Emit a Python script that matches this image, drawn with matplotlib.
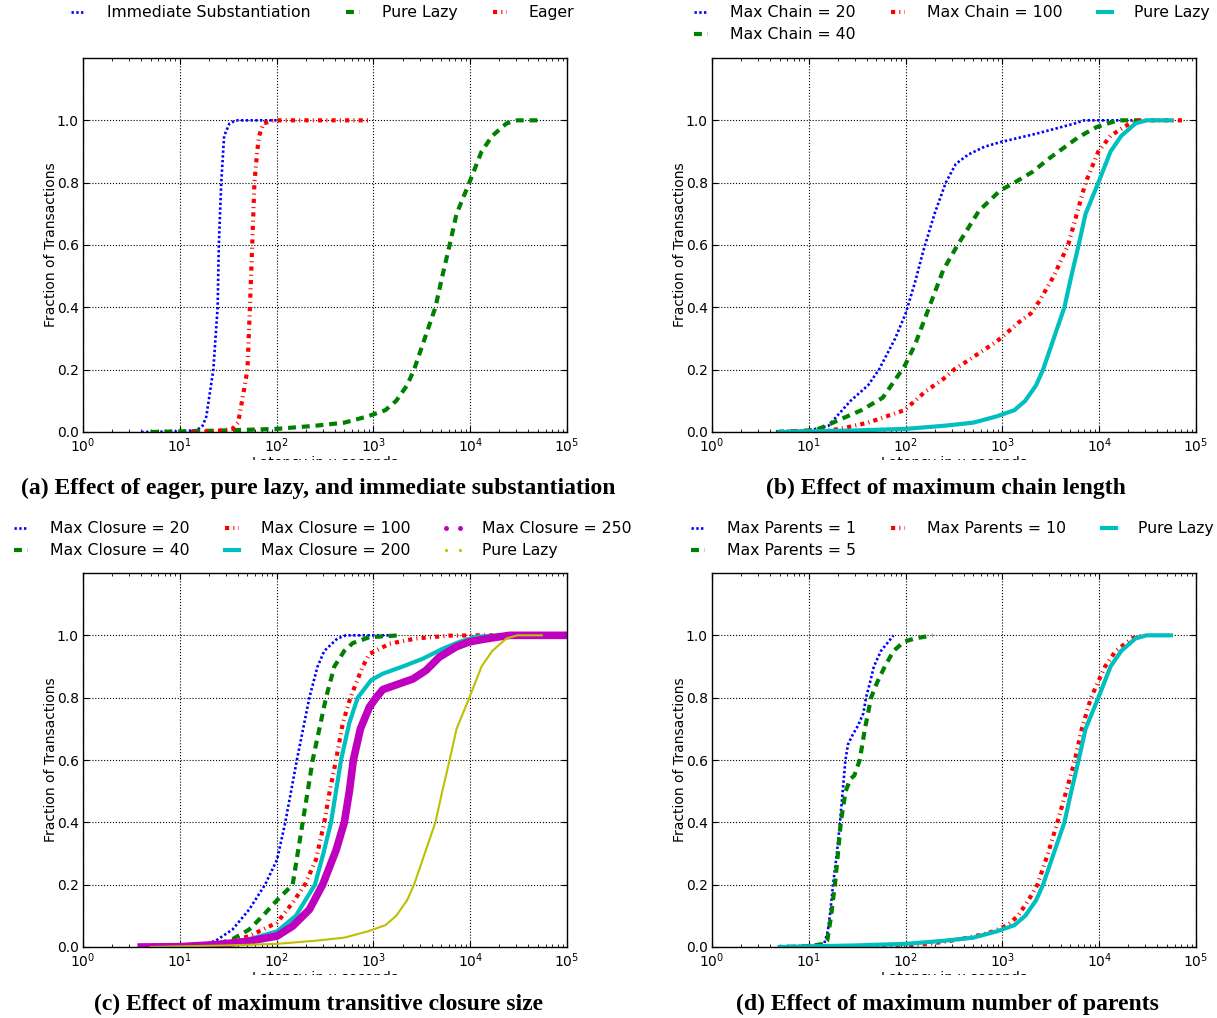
import matplotlib
matplotlib.use("Agg")
import matplotlib.pyplot as plt
from matplotlib.lines import Line2D
from matplotlib.ticker import FormatStrFormatter
from matplotlib.transforms import Bbox, TransformedBbox

W, H, DPI = 1217, 1018, 100

# ---- data (latency in seconds, cumulative fraction) ----
# shared "Pure Lazy" curve
PURE_LAZY_X = [5, 10, 30, 100, 250, 500, 870, 1330, 1720, 2230, 2630, 3390, 4370,
               5150, 6130, 7230, 9800, 13100, 16900, 23700, 30700, 55000]
PURE_LAZY_Y = [0, 0.002, 0.005, 0.01, 0.02, 0.03, 0.05, 0.07, 0.1, 0.15, 0.2, 0.3, 0.4,
               0.5, 0.6, 0.7, 0.8, 0.9, 0.95, 0.99, 1.0, 1.0]

# (a)
IMMEDIATE_X = [4, 10, 15, 17.2, 18.8, 22.2, 24.6, 25.3, 26.8, 28.7, 32.6, 38, 60, 100]
IMMEDIATE_Y = [0, 0.002, 0.006, 0.02, 0.05, 0.2, 0.4, 0.6, 0.8, 0.95, 0.99, 1.0, 1.0, 1.0]
EAGER_X = [13, 20, 27, 35, 40, 44, 50, 53, 56, 59, 63, 66, 73, 90, 107, 300, 900]
EAGER_Y = [0, 0.002, 0.005, 0.01, 0.03, 0.1, 0.2, 0.4, 0.6, 0.8, 0.9, 0.95, 0.99, 0.998,
           1.0, 1.0, 1.0]

# (b)
CHAIN20_X = [4.6, 10, 16, 19.4, 27, 41, 53, 78, 100, 125, 152, 199, 260, 330, 443, 650,
             950, 2230, 3700, 5600, 7000, 22000]
CHAIN20_Y = [0, 0.005, 0.02, 0.05, 0.1, 0.15, 0.2, 0.3, 0.38, 0.48, 0.58, 0.7, 0.8, 0.86,
             0.89, 0.915, 0.93, 0.957, 0.975, 0.99, 1.0, 1.0]
CHAIN40_X = [4.6, 10, 12.7, 15, 21, 35, 58, 97, 125, 175, 245, 345, 574, 950, 1330, 2030,
             3110, 6100, 9350, 15500, 25700]
CHAIN40_Y = [0, 0.005, 0.01, 0.02, 0.04, 0.07, 0.11, 0.21, 0.28, 0.40, 0.52, 0.60, 0.71,
             0.775, 0.80, 0.834, 0.88, 0.946, 0.978, 1.0, 1.0]
CHAIN100_X = [5, 10, 16, 21, 41, 63, 97, 125, 160, 245, 316, 445, 620, 870, 1130, 1450,
              1960, 2410, 3390, 4770, 5870, 7230, 9800, 13100, 18300, 23700, 74000]
CHAIN100_Y = [0, 0.003, 0.005, 0.01, 0.03, 0.05, 0.07, 0.1, 0.13, 0.17, 0.2, 0.23, 0.26,
              0.29, 0.32, 0.35, 0.38, 0.42, 0.5, 0.6, 0.7, 0.8, 0.9, 0.95, 0.98, 1.0, 1.0]

# (c)
CLOSURE20_X = [4, 10, 15.8, 23.5, 35, 52, 76, 101, 123, 162, 218, 265, 311, 425, 521, 1600]
CLOSURE20_Y = [0, 0.001, 0.003, 0.02, 0.056, 0.12, 0.2, 0.28, 0.4, 0.6, 0.8, 0.9, 0.95,
               0.99, 1.0, 1.0]
CLOSURE40_X = [5, 10, 23.5, 35, 52, 72, 101, 146.5, 186, 236, 324, 395, 500, 611, 910, 1860]
CLOSURE40_Y = [0, 0.001, 0.008, 0.025, 0.056, 0.1, 0.15, 0.2, 0.4, 0.6, 0.8, 0.9, 0.95,
               0.975, 0.994, 1.0]
CLOSURE100_X = [5, 10, 23.5, 52, 101, 146.5, 196, 255, 311, 351, 411, 482, 578, 776, 910,
                1465, 2760, 6110, 13500, 95000]
CLOSURE100_Y = [0, 0.001, 0.003, 0.035, 0.078, 0.142, 0.2, 0.28, 0.4, 0.494, 0.6, 0.717,
                0.8, 0.9, 0.94, 0.973, 0.99, 0.999, 1.0, 1.0]
CLOSURE200_X = [5, 10, 25, 52, 101, 158, 249, 304, 365, 463, 565, 689, 946, 1250, 2010,
                3240, 5210, 7760, 11500, 20100, 99000]
CLOSURE200_Y = [0, 0.001, 0.008, 0.025, 0.05, 0.1, 0.2, 0.3, 0.4, 0.6, 0.72, 0.8, 0.856,
                0.877, 0.9, 0.925, 0.957, 0.979, 0.995, 1.0, 1.0]
CLOSURE250_X = [4, 10, 25, 52, 101, 146.5, 218, 299, 411, 501, 565, 621, 734, 910, 1067,
                1250, 2560, 3510, 4790, 7160, 9770, 14700, 25500, 99000]
CLOSURE250_Y = [0, 0.001, 0.008, 0.019, 0.035, 0.067, 0.12, 0.2, 0.31, 0.4, 0.5, 0.6, 0.7,
                0.77, 0.8, 0.826, 0.86, 0.888, 0.93, 0.963, 0.979, 0.989, 1.0, 1.0]

# (d)
PARENTS1_X = [6, 10, 14.4, 15.7, 16.5, 17.8, 19.5, 21, 23.9, 25.4, 28.3, 32.2, 36.6, 39,
              43, 47, 55.7, 75]
PARENTS1_Y = [0, 0.002, 0.01, 0.05, 0.1, 0.2, 0.3, 0.4, 0.6, 0.65, 0.68, 0.71, 0.75, 0.8,
              0.85, 0.9, 0.95, 1.0]
PARENTS5_X = [6, 10, 14.4, 15.5, 17, 18.6, 20, 21.4, 24, 27, 29.5, 33.6, 38, 44, 51, 61,
              75, 97, 125, 190]
PARENTS5_Y = [0, 0.003, 0.01, 0.02, 0.1, 0.2, 0.3, 0.4, 0.5, 0.54, 0.55, 0.6, 0.7, 0.8,
              0.85, 0.9, 0.95, 0.98, 0.99, 1.0]
PARENTS10_X = [6, 30, 100, 175, 290, 445, 620, 800, 1130, 1450, 1860, 2300, 2960, 3700,
               4570, 5610, 6620, 8230, 11500, 14800, 21800, 28000]
PARENTS10_Y = [0, 0.002, 0.005, 0.01, 0.02, 0.03, 0.04, 0.05, 0.07, 0.1, 0.15, 0.2, 0.3,
               0.4, 0.5, 0.6, 0.7, 0.8, 0.9, 0.95, 0.99, 1.0]

CAPTIONS = [
    "(a) Effect of eager, pure lazy, and immediate substantiation",
    "(b) Effect of maximum chain length",
    "(c) Effect of maximum transitive closure size",
    "(d) Effect of maximum number of parents",
]

# line styles
DOT = dict(color="b", lw=1.9, ls=(0, (0.9, 0.9)))
DASH = dict(color="g", lw=3, ls=(0, (1.9, 1.4)))
DASHDOT = dict(color="r", lw=3, ls=(0, (1, 1, 0.25, 1)))
SOLID_C = dict(color="c", lw=3, ls="-")
THICK_M = dict(color="m", lw=5.5, ls="-")
THIN_Y = dict(color="y", lw=1.5, ls="-")

fig = plt.figure(figsize=(W / DPI, H / DPI), dpi=DPI)
fig.patch.set_facecolor("white")


def px_rect(left, top, right, bottom):
    return [left / W, 1 - bottom / H, (right - left) / W, (bottom - top) / H]


def fig_bbox(x0, y0, x1, y1):
    # pixel box (top-left origin) -> display clip box
    return TransformedBbox(Bbox.from_extents(x0 / W, 1 - y1 / H, x1 / W, 1 - y0 / H),
                           fig.transFigure)


def make_axes(left, top):
    ax = fig.add_axes(px_rect(left, top, left + 484, top + 374))
    ax.set_xscale("log")
    ax.set_xlim(1, 1e5)
    ax.set_ylim(0, 1.2)
    ax.set_yticks([0, 0.2, 0.4, 0.6, 0.8, 1.0])
    ax.yaxis.set_major_formatter(FormatStrFormatter("%.1f"))
    ax.grid(True, which="major", ls=":", color="k", lw=0.8)
    ax.tick_params(which="both", direction="in", top=True, right=True, labelsize=10)
    ax.tick_params(which="major", length=4, width=0.8, pad=3)
    ax.tick_params(which="minor", length=2, width=0.6)
    for sp in ax.spines.values():
        sp.set_linewidth(1.0)
    ax.set_ylabel("Fraction of Transactions", fontsize=10, labelpad=-1)
    # x label, cut off at the bottom like in the original crop
    t = fig.text((left + 242) / W, 1 - (top + 398) / H, "Latency in μ seconds",
                 ha="center", va="top", fontsize=10)
    t.set_clip_box(fig_bbox(0, 0, W, top + 402))
    t.set_clip_on(True)
    return ax


def add_legend(handles, labels, left, top, clip_right=None):
    leg = fig.legend(handles, labels, loc="upper left",
                     bbox_to_anchor=(left / W, 1 - top / H), bbox_transform=fig.transFigure,
                     ncol=3, frameon=False, fontsize=11.3, borderpad=0, borderaxespad=0,
                     handlelength=1.5, handletextpad=1.1, columnspacing=1.95,
                     labelspacing=0.45, numpoints=2)
    if clip_right is not None:
        for t in leg.get_texts():
            t.set_clip_box(fig_bbox(0, 0, clip_right, H))
            t.set_clip_on(True)
    return leg


# (a)
ax = make_axes(83, 58)
h1, = ax.plot(IMMEDIATE_X, IMMEDIATE_Y, **DOT)
h2, = ax.plot(PURE_LAZY_X, PURE_LAZY_Y, **DASH)
h3, = ax.plot(EAGER_X, EAGER_Y, **DASHDOT)
add_legend([h1, h2, h3], ["Immediate Substantiation", "Pure Lazy", "Eager"], 66, 5)

# (b)
ax = make_axes(712, 58)
h1, = ax.plot(CHAIN20_X, CHAIN20_Y, **DOT)
h2, = ax.plot(CHAIN40_X, CHAIN40_Y, **DASH)
h3, = ax.plot(CHAIN100_X, CHAIN100_Y, **DASHDOT)
h4, = ax.plot(PURE_LAZY_X, PURE_LAZY_Y, **SOLID_C)
add_legend([h1, h2, h3, h4],
           ["Max Chain = 20", "Max Chain = 40", "Max Chain = 100", "Pure Lazy"], 689, 5)

# (c)
ax = make_axes(83, 573)
h1, = ax.plot(CLOSURE20_X, CLOSURE20_Y, **DOT)
h2, = ax.plot(CLOSURE40_X, CLOSURE40_Y, **DASH)
h3, = ax.plot(CLOSURE100_X, CLOSURE100_Y, **DASHDOT)
h4, = ax.plot(CLOSURE200_X, CLOSURE200_Y, **SOLID_C)
ax.plot(CLOSURE250_X, CLOSURE250_Y, **THICK_M)
ax.plot(PURE_LAZY_X, PURE_LAZY_Y, **THIN_Y)
h5 = Line2D([], [], color="m", marker=".", ls="none", markersize=5)
h6 = Line2D([], [], color="y", marker=".", ls="none", markersize=2.5)
add_legend([h1, h2, h3, h4, h5, h6],
           ["Max Closure = 20", "Max Closure = 40", "Max Closure = 100",
            "Max Closure = 200", "Max Closure = 250", "Pure Lazy"], 9, 521, clip_right=631)

# (d)
ax = make_axes(712, 573)
h1, = ax.plot(PARENTS1_X, PARENTS1_Y, **DOT)
h2, = ax.plot(PARENTS5_X, PARENTS5_Y, **DASH)
h3, = ax.plot(PARENTS10_X, PARENTS10_Y, **DASHDOT)
h4, = ax.plot(PURE_LAZY_X, PURE_LAZY_Y, **SOLID_C)
add_legend([h1, h2, h3, h4],
           ["Max Parents = 1", "Max Parents = 5", "Max Parents = 10", "Pure Lazy"], 686, 521)

# captions
for (cx, cy), text in zip([(318, 488), (946, 488), (318, 1004), (947, 1004)], CAPTIONS):
    fig.text(cx / W, 1 - cy / H, text, ha="center", va="center", fontsize=17,
             fontweight="bold", family="Liberation Serif")

fig.savefig("out.png", dpi=DPI, facecolor="white")
